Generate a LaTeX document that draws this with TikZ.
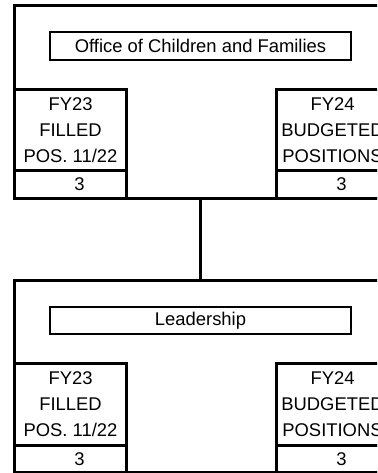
\documentclass[tikz,border=0pt]{standalone}
\usepackage{fontspec}
\setmainfont{Liberation Sans}
\begin{document}
\begin{tikzpicture}[x=1pt,y=-1pt,
  bx/.style={draw=black, line width=3pt, rectangle, inner sep=0pt, anchor=north west},
  txt/.style={font=\fontsize{18.4}{26}\selectfont, align=center},
  titlebox/.style={draw=black, line width=2.8pt, rectangle, inner sep=0pt, minimum width=301pt, minimum height=28pt, font=\fontsize{18.4}{22}\selectfont},
  lbl/.style={font=\fontsize{18.4}{22}\selectfont, inner sep=0pt}
]
\path[use as bounding box, clip] (0,0) rectangle (377,473);
% ---------- top unit ----------
\node[bx, minimum width=387pt, minimum height=193pt] (top) at (13,4) {};
\node[titlebox] (t1) at (200.5,46) {Office of Children and Families};
\node[bx, txt, minimum width=112pt, minimum height=81pt] (a1) at (13,88) {FY23\\FILLED\\POS. 11/22};
\node[bx, minimum width=112pt, minimum height=28pt] (a1n) at (13,169) {};
\node[lbl] (a1v) at ([xshift=9pt]a1n.center) {3};
\node[bx, txt, minimum width=112pt, minimum height=81pt] (b1) at (275,88) {FY24\\BUDGETED\\POSITIONS};
\node[bx, minimum width=112pt, minimum height=28pt] (b1n) at (275,169) {};
\node[lbl] (b1v) at ([xshift=9pt]b1n.center) {3};
% ---------- bottom unit ----------
\node[bx, minimum width=387pt, minimum height=192pt] (bot) at (13,279) {};
\node[titlebox, minimum height=27pt] (t2) at (200.5,320.5) {Leadership};
\node[bx, txt, minimum width=112pt, minimum height=82pt] (a2) at (13,362) {FY23\\FILLED\\POS. 11/22};
\node[bx, minimum width=112pt, minimum height=27pt] (a2n) at (13,444) {};
\node[lbl] (a2v) at ([xshift=9pt]a2n.center) {3};
\node[bx, txt, minimum width=112pt, minimum height=82pt] (b2) at (275,362) {FY24\\BUDGETED\\POSITIONS};
\node[bx, minimum width=112pt, minimum height=27pt] (b2n) at (275,444) {};
\node[lbl] (b2v) at ([xshift=9pt]b2n.center) {3};
% ---------- connector ----------
\draw[line width=3pt] (top.south -| t1.center) -- (bot.north -| t1.center);
\end{tikzpicture}
\end{document}
